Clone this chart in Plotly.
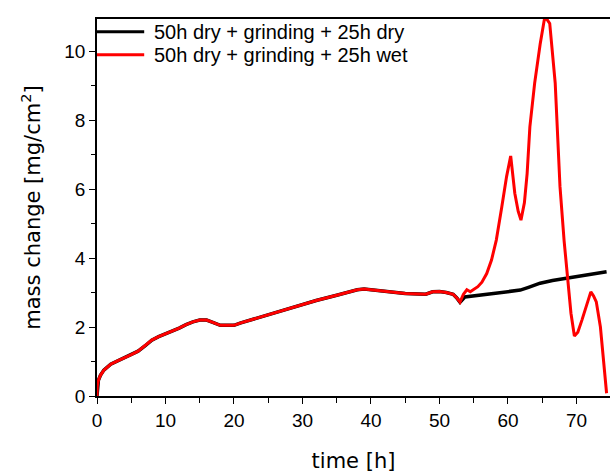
import plotly.graph_objects as go

# Shared oxidation run (first 53 h) followed by the two 25 h exposures
t_common = [0, 0.05, 0.2, 0.5, 1, 2, 3, 4, 5, 6, 7, 8, 9, 10, 11, 12, 13, 14, 15, 16,
            17, 18, 19, 20, 21, 22, 25, 28, 30, 32, 35, 37, 38, 39, 40, 42, 45, 47,
            48, 49, 50, 51, 52, 52.5, 53]
m_common = [0, 0.3, 0.45, 0.6, 0.75, 0.92, 1.02, 1.1, 1.2, 1.3, 1.45, 1.62, 1.72, 1.8,
            1.88, 1.97, 2.07, 2.15, 2.2, 2.2, 2.13, 2.05, 2.05, 2.05, 2.12, 2.18, 2.35,
            2.55, 2.65, 2.77, 2.92, 3.03, 3.08, 3.1, 3.08, 3.02, 2.97, 2.96, 2.95, 3.02,
            3.03, 3.0, 2.95, 2.85, 2.72]

t_dry_tail = [53.7, 55, 57, 58.8, 60, 61.8, 63, 64.7, 66.5, 68.6, 71, 72.5, 74.4]
m_dry_tail = [2.87, 2.9, 2.94, 2.98, 3.01, 3.07, 3.15, 3.27, 3.35, 3.42, 3.5, 3.55, 3.6]

t_wet_tail = [53.5, 54, 54.5, 55, 55.6, 56.2, 56.9, 57.6, 58.3, 59.1, 59.8, 60.4, 61.0,
              61.5, 61.9, 62.4, 62.8, 63.2, 63.9, 64.7, 65.3, 65.6, 66.1, 66.9, 67.6,
              68.2, 68.7, 69.2, 69.7, 70.2, 70.8, 71.5, 72.1, 72.5, 72.9, 73.5, 74.0, 74.4]
m_wet_tail = [2.95, 3.08, 3.02, 3.1, 3.17, 3.3, 3.55, 3.94, 4.52, 5.48, 6.36, 6.96, 5.88,
              5.35, 5.1, 5.6, 6.45, 7.8, 9.07, 10.2, 10.9, 10.95, 10.8, 9.07, 6.07,
              4.5, 3.42, 2.4, 1.74, 1.85, 2.2, 2.65, 3.02, 2.9, 2.73, 2.0, 1.0, 0.08]

labels = ["50h dry + grinding + 25h dry", "50h dry + grinding + 25h wet"]
colors = ["black", "#ff0000"]

fig = go.Figure()
fig.add_trace(go.Scatter(x=t_common + t_dry_tail, y=m_common + m_dry_tail, mode="lines",
                         line=dict(color=colors[0], width=3.5), name=labels[0],
                         showlegend=False))
fig.add_trace(go.Scatter(x=t_common + t_wet_tail, y=m_common + m_wet_tail, mode="lines",
                         line=dict(color=colors[1], width=3), name=labels[1],
                         showlegend=False))

# legend drawn inside the top-left corner of the plot
legend_y = [0.966, 0.905]
for lab, col, yy in zip(labels, colors, legend_y):
    fig.add_shape(type="line", xref="paper", yref="paper", x0=0, x1=0.092, y0=yy, y1=yy,
                  line=dict(color=col, width=3))
    fig.add_annotation(xref="paper", yref="paper", x=0.108, y=yy, text=lab,
                       showarrow=False, xanchor="left", yanchor="middle",
                       font=dict(family="Liberation Sans, Arial", size=20, color="black"))

axis_common = dict(showline=True, linecolor="black", linewidth=1.5, ticks="outside",
                   ticklen=6, tickwidth=1.2, tickcolor="black", showgrid=False,
                   zeroline=False,
                   tickfont=dict(family="Liberation Sans, Arial", size=19, color="black"))

fig.update_xaxes(range=[0, 74.9], dtick=10, mirror=True,
                 minor=dict(dtick=5, ticks="outside", ticklen=5, tickcolor="black"),
                 title=dict(text="time [h]", standoff=28,
                            font=dict(family="DejaVu Sans", size=21, color="black")),
                 **axis_common)
fig.update_yaxes(range=[0, 10.93], dtick=2,
                 minor=dict(dtick=1, ticks="outside", ticklen=4, tickcolor="black"),
                 title=dict(text="mass change [mg/cm<sup>2</sup>]", standoff=18,
                            font=dict(family="DejaVu Sans", size=21, color="black")),
                 **axis_common)

fig.update_layout(width=610, height=473, margin=dict(l=97, r=0, t=19, b=77),
                  plot_bgcolor="white", paper_bgcolor="white")

fig.write_html("out.html")
